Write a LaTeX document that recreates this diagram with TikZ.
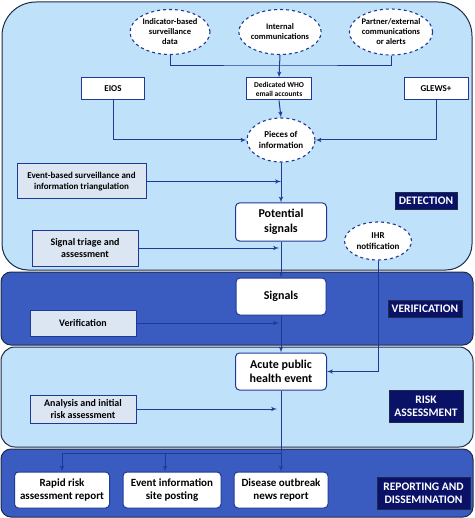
\documentclass[tikz,border=0pt]{standalone}
\usepackage{fontspec}
\setmainfont{Carlito}
\usetikzlibrary{arrows,shapes.geometric,calc}
\definecolor{paleblue}{HTML}{BFE1FA}
\definecolor{deepblue}{HTML}{3A5BBF}
\definecolor{linkblue}{HTML}{1F3A96}
\definecolor{navy}{HTML}{0A1268}
\definecolor{greybox}{HTML}{DCE6F3}
\definecolor{rim}{HTML}{1E2B48}
\begin{document}
\begin{tikzpicture}[x=1pt,y=-1pt,font=\bfseries]
	\tikzset{source/.style = {shape=ellipse,draw=linkblue,dashed,line width=1.1pt,fill=white,inner sep=0pt,align=center,font=\bfseries\fontsize{8.5}{10}\selectfont}}
	\tikzset{channel/.style = {shape=rectangle,draw=linkblue,line width=1pt,fill=white,inner sep=0pt,align=center,minimum height=22pt,font=\bfseries\fontsize{9}{10}\selectfont}}
	\tikzset{process/.style = {shape=rectangle,draw=linkblue,line width=1pt,fill=greybox,inner sep=0pt,align=center,minimum width=106pt,font=\bfseries\fontsize{10}{12.5}\selectfont}}
	\tikzset{stage/.style = {shape=rectangle,rounded corners=4pt,draw=linkblue,line width=1pt,fill=white,inner sep=0pt,align=center,minimum height=37pt,font=\bfseries\fontsize{11}{13.5}\selectfont}}
	\tikzset{phase/.style = {shape=rectangle,draw=rim,fill=navy,text=white,inner sep=0pt,align=center,font=\bfseries\fontsize{11.5}{13}\selectfont}}
	\tikzset{edge/.style = {->,> = latex',draw=linkblue,line width=1pt}}
	\useasboundingbox (0,0) rectangle (474,518);
	% panels
	\draw[fill=paleblue,draw=rim,line width=1pt] (2,150) [rounded corners=34pt] -- (2,2) -- (472,2) -- (472,150) [rounded corners=26pt] -- (472,270) -- (2,270) -- cycle;
	\draw[fill=deepblue,draw=rim,line width=1pt,rounded corners=10pt] (1,272) rectangle (473,345);
	\draw[fill=paleblue,draw=rim,line width=1pt,rounded corners=14pt] (1,347) rectangle (473,447);
	\draw[fill=deepblue,draw=rim,line width=1pt,rounded corners=10pt] (1,449) rectangle (473,517);
	% detection
	\node[source,minimum width=80pt,minimum height=45pt] (ind) at (170,32) {Indicator-based\\surveillance\\data};
	\node[source,minimum width=80pt,minimum height=45pt] (int) at (280,32) {Internal\\communications};
	\node[source,minimum width=80pt,minimum height=46pt] (part) at (391,32) {Partner/external\\communications\\or alerts};
	\node[channel,minimum width=63pt] (eios) at (113,89) {EIOS};
	\node[channel,minimum width=65pt,font=\bfseries\fontsize{7.5}{9}\selectfont] (ded) at (279,89) {Dedicated WHO\\email accounts};
	\node[channel,minimum width=64pt] (glews) at (436,89) {GLEWS+};
	\node[source,minimum width=68pt,minimum height=44pt,font=\bfseries\fontsize{9}{11}\selectfont] (pieces) at (281,140) {Pieces of\\information};
	\node[process,minimum width=129pt,minimum height=35pt,font=\bfseries\fontsize{9}{11}\selectfont] (evb) at (81.5,181.5) {Event-based surveillance and\\information triangulation};
	\node[stage,minimum width=91pt,minimum height=38pt,font=\bfseries\fontsize{12}{15}\selectfont] (pot) at (281,222) {Potential\\signals};
	\node[process,minimum height=36pt] (triage) at (85,248) {Signal triage and\\assessment};
	\node[phase,minimum width=62pt,minimum height=17pt] (det) at (426,200.5) {DETECTION};
	\node[source,minimum width=67pt,minimum height=38pt,font=\bfseries\fontsize{9}{11}\selectfont] (ihr) at (378,241) {IHR\\notification};
	% verification
	\node[stage,minimum width=90pt,font=\bfseries\fontsize{12}{15}\selectfont] (sig) at (281,296.5) {Signals};
	\node[process,minimum height=26pt] (verif) at (83,323) {Verification};
	\node[phase,minimum width=74pt,minimum height=17pt] (ver) at (425,308.5) {VERIFICATION};
	% risk assessment
	\node[stage,minimum width=91pt,font=\bfseries\fontsize{12}{14}\selectfont] (acute) at (281,371.5) {Acute public\\health event};
	\node[process,minimum height=28pt] (anal) at (83,409) {Analysis and initial\\risk assessment};
	\node[phase,minimum width=74pt,minimum height=32pt] (risk) at (426,406) {RISK\\ASSESSMENT};
	% reporting
	\node[stage,minimum width=95pt,minimum height=36pt] (rapid) at (62,490) {Rapid risk\\assessment report};
	\node[stage,minimum width=98pt,minimum height=36pt] (einfo) at (172,490) {Event information\\site posting};
	\node[stage,minimum width=94pt,minimum height=36pt] (dis) at (281,490) {Disease outbreak\\news report};
	\node[phase,minimum width=93pt,minimum height=32pt] (rep) at (423.5,493) {REPORTING AND\\DISSEMINATION};
	% connectors
	\coordinate (join) at (280,66);
	\coordinate (fork) at (281,453);
	\draw[draw=linkblue,line width=1pt] (ind.south) |- (join) -| (part.south);
	\draw[edge] (int.south) -- (ded.north);
	\draw[edge] (ded.south) -- (pieces.north);
	\draw[edge] (eios.south) |- (pieces.west);
	\draw[edge] (glews.south) |- (pieces.east);
	\draw[edge] (pieces.south) -- (pot.north);
	\draw[edge] (evb.east) -- (evb.east -| pot);
	\draw[edge] (pot.south) -- (sig.north);
	\draw[edge] (triage.east) -- ($(triage.east -| pot)+(-2,0)$);
	\draw[edge] (sig.south) -- (acute.north);
	\draw[edge] (verif.east) -- ($(verif.east -| sig)+(-2,0)$);
	\draw[edge] (ihr.south) |- (acute.east);
	\draw[edge] (acute.south) -- (dis.north);
	\draw[edge] (anal.east) -- ($(anal.east -| acute)+(-4,0)$);
	\draw[edge] (fork) -| (rapid.north);
	\draw[edge] (fork) -| ([xshift=-7pt]einfo.north);
\end{tikzpicture}
\end{document}
